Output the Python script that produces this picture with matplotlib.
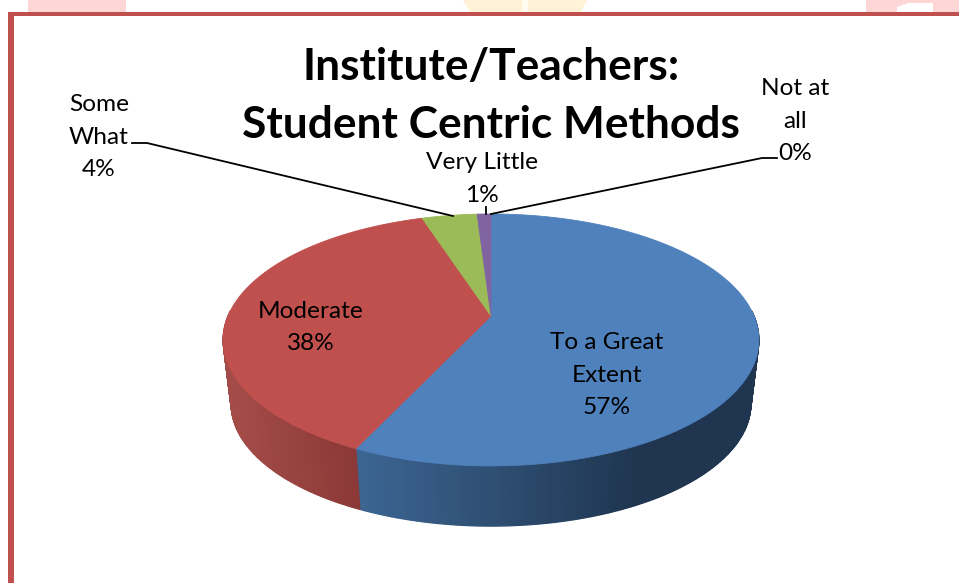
import numpy as np
import matplotlib
matplotlib.use('Agg')
import matplotlib.pyplot as plt
from matplotlib.patches import Polygon, Rectangle

plt.rcParams['font.family'] = ['Lato', 'DejaVu Sans']

title = 'Institute/Teachers:\nStudent Centric Methods'
categories = ['To a Great\nExtent', 'Moderate', 'Some\nWhat', 'Very Little', 'Not at\nall']
values = [57, 38, 4, 1, 0]
colors = ['#4F81BD', '#C0504D', '#9BBB59', '#8064A2', '#4BACC6']

# side wall shades, left to right
wall_left = ['#3C6592', '#A44C48', '#7F9647', '#665082', '#3C8A9E']
wall_right = ['#1F3550', '#8A3836', '#7F9647', '#665082', '#3C8A9E']
wall_x = [(360, 640), (230, 360), (420, 480), (480, 491), (491, 491)]

# label centre (x) and first baseline (y) in pixels
label_pos = [(607, 349), (311, 318), (99, 111), (482, 169), (795, 95)]
line_gap = 32.5
label_size = 17.6


def rim(theta):
    # perspective view of the pie circle, theta clockwise from the top
    u, v = np.sin(theta), np.cos(theta)
    d = 1 + 0.19 * v
    return 491 + 263 * u / d, 316 - 121.4 * v / d


def lower(x, y):
    # bottom edge of the wall for a rim point
    return 491 + (x - 491) * 0.97, 340 + (y - 340) * 0.97 + 64


def shade(c1, c2, f):
    a = np.array(matplotlib.colors.to_rgb(c1))
    b = np.array(matplotlib.colors.to_rgb(c2))
    return a + (b - a) * min(max(f, 0), 1)


fig = plt.figure(figsize=(9.59, 5.83), dpi=100)
ax = fig.add_axes([0, 0, 1, 1])
ax.set_xlim(0, 959)
ax.set_ylim(583, 0)
ax.axis('off')

# bits of the page showing above the frame
ax.add_patch(Rectangle((28, 0), 98, 12, fc='#FFD6D6', ec='none'))
ax.add_patch(Rectangle((866, 0), 93, 12, fc='#FFD6D6', ec='none'))
ax.add_patch(Polygon([(897, 12), (897, 7), (908, 3), (933, 3), (933, 12)], fc='#FFFFFF', ec='none'))
ax.add_patch(Polygon([(463, 0), (470, 12), (581, 12), (587, 0)], fc='#FFF2D6', ec='none'))
ax.add_patch(Rectangle((522, 0), 6, 12, fc='#FFFBEF', ec='none'))

# frame
ax.add_patch(Rectangle((8, 12), 951, 3.5, fc='#C0504D', ec='none'))
ax.add_patch(Rectangle((8, 12), 5.5, 571, fc='#C0504D', ec='none'))

edges = np.cumsum([0] + values) / sum(values) * 2 * np.pi

# walls first, the top face covers the rest. Back of the pie has no visible wall
for i in range(len(values)):
    if values[i] == 0:
        continue
    th = np.linspace(edges[i], edges[i + 1], max(int(values[i] * 6), 6))
    x, y = rim(th)
    bx, by = lower(x, y)
    for j in range(len(th) - 1):
        if np.cos((th[j] + th[j + 1]) / 2) > 0.05:
            continue
        f = ((x[j] + x[j + 1]) / 2 - wall_x[i][0]) / (wall_x[i][1] - wall_x[i][0])
        c = shade(wall_left[i], wall_right[i], f)
        ax.add_patch(Polygon([(x[j], y[j]), (x[j + 1], y[j + 1]), (bx[j + 1], by[j + 1]), (bx[j], by[j])],
                             fc=c, ec=c, lw=0.9))

for i in range(len(values)):
    if values[i] == 0:
        continue
    th = np.linspace(edges[i], edges[i + 1], max(int(values[i] * 6), 6))
    x, y = rim(th)
    pts = np.column_stack([np.r_[491, x], np.r_[316, y]])
    ax.add_patch(Polygon(pts, fc=colors[i], ec=colors[i], lw=0.6))

# leader lines
ax.plot([132, 147, 453], [143, 143, 216], color='black', lw=1.3, solid_joinstyle='miter')
ax.plot([777, 762, 491], [158, 158, 214], color='black', lw=1.3, solid_joinstyle='miter')
ax.plot([486, 486], [207, 214], color='black', lw=1.3)

for i in range(len(values)):
    lines = categories[i].split('\n') + ['%d%%' % values[i]]
    x0, y0 = label_pos[i]
    for k, line in enumerate(lines):
        ax.text(x0, y0 + k * line_gap, line, ha='center', va='baseline', fontsize=label_size, color='black')

title_lines = title.split('\n')
ax.text(491, 66.5, title_lines[0], ha='center', va='center', fontsize=31.9, fontweight='bold', color='black')
ax.text(491, 124.5, title_lines[1], ha='center', va='center', fontsize=31.9, fontweight='bold', color='black')

plt.savefig('out.png', dpi=100)
